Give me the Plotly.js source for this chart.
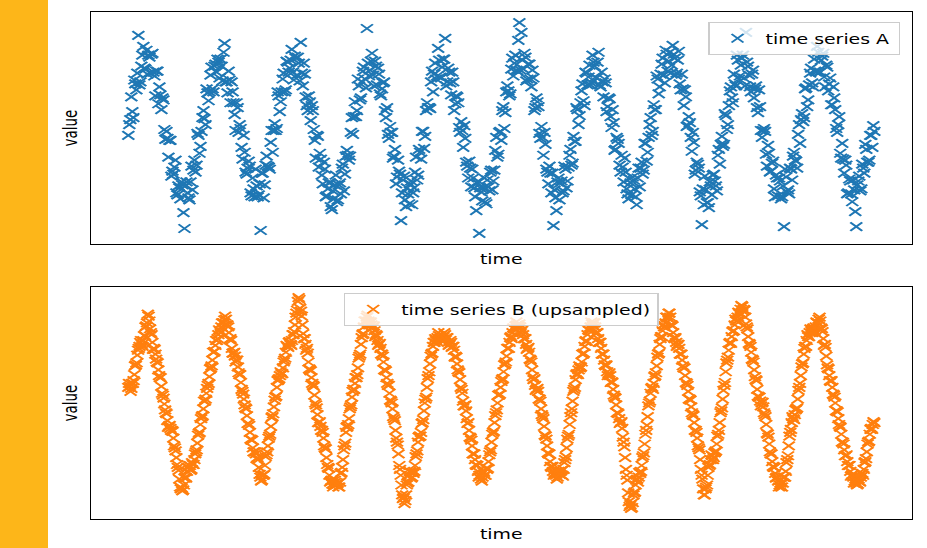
<!DOCTYPE html>
<html>
<head>
<meta charset="utf-8">
<script src="https://cdn.plot.ly/plotly-3.0.1.min.js"></script>
<style>
html,body{margin:0;padding:0;background:#ffffff;overflow:hidden;width:927px;height:548px}
#wrap{position:absolute;left:0;top:0;width:662px;height:548px;transform:scaleX(1.4003);transform-origin:0 0}
#plot{width:662px;height:548px}
#bar{position:absolute;left:0;top:0;width:48px;height:548px;background:#FDB619;z-index:10}
</style>
</head>
<body>
<div id="wrap"><div id="plot"></div></div>
<div id="bar"></div>
<script>
// Series A, samples at even time steps
const seriesA_even = [
104,120,128,160,150,205,158,185,172,190,
185,167,187,164,169,136,145,142,110,108,82,99,68,72,46,53,40,54,
10,57,41,57,49,79,74,104,93,122,121,151,139,165,151,174,168,178,
181,159,197,158,169,137,148,125,137,107,111,80,87,65,78,46,61,42,53,
44,8,66,54,83,72,97,87,116,111,144,138,161,148,179,168,180,168,
184,165,177,198,154,166,134,144,119,129,99,104,72,80,55,70,43,56,32,48,
54,37,54,45,75,65,89,79,107,105,138,129,154,142,169,161,212,164,179,
165,179,155,166,144,157,129,132,101,107,81,90,62,68,18,59,39,51,
35,58,46,67,59,90,80,108,103,137,132,158,148,177,164,180,162,
181,202,158,168,145,158,136,143,112,118,92,101,73,78,52,61,42,56,5,47,
51,37,59,48,69,58,89,82,107,99,133,127,154,144,171,164,185,169,218,208,
171,183,161,176,153,162,132,138,106,113,84,95,67,73,46,13,41,57,
39,58,48,70,58,84,74,103,98,130,124,149,139,168,155,175,157,178,
163,178,155,168,143,157,133,141,112,117,90,100,74,84,57,67,45,60,44,
59,42,61,52,77,69,96,87,115,104,135,130,161,153,176,165,190,169,188,175,
186,165,180,156,166,134,143,114,117,88,97,69,75,47,14,34,49,
36,57,44,65,53,84,75,103,95,124,115,149,142,166,154,180,164,182,
162,208,174,153,166,142,154,127,133,102,111,85,94,67,76,50,64,43,58,42,
12,62,49,71,59,87,78,105,96,126,122,152,140,167,157,181,168,188,168,
184,163,175,149,162,135,142,111,115,86,96,66,74,46,58,37,49,
12,58,48,75,66,90,77,104,92,108
];
// Series A, samples at odd time steps
const seriesA_odd = [
115,143,122,156,167,155,174,194,171,166,
183,186,168,144,169,153,130,140,100,101,99,63,65,79,44,51,57,26,
53,46,39,73,69,67,106,86,108,129,115,147,148,173,148,176,181,162,
174,188,158,147,160,158,137,109,132,115,92,104,67,71,73,43,50,70,42,
55,66,41,74,73,70,109,109,109,148,128,148,167,150,178,172,191,160,
182,183,159,167,177,143,129,138,134,110,81,103,86,64,77,42,50,56,29,40,
64,39,56,71,48,83,84,83,122,123,123,161,140,158,173,152,177,170,187,
154,174,172,146,151,158,122,105,113,107,83,55,79,65,46,63,32,45,
55,34,51,82,64,87,108,91,129,132,131,169,166,161,192,163,173,
181,154,172,157,168,129,144,137,107,109,114,77,61,71,70,51,28,58,51,38,
61,35,52,67,49,69,102,85,108,129,111,148,149,146,182,177,170,200,170,180,
187,159,176,161,170,129,142,133,101,102,107,70,55,66,66,49,28,61,
56,46,73,51,72,90,76,98,132,115,137,156,134,167,163,155,185,174,
162,188,153,158,161,128,142,123,130,89,102,96,67,72,81,50,40,56,62,
50,34,71,71,65,96,78,102,122,108,130,164,146,166,182,157,186,179,167,195,
182,167,189,150,151,150,113,123,102,107,65,77,71,43,50,63,36,
31,53,64,58,48,90,95,93,126,110,134,153,137,156,185,161,175,185,
154,178,165,148,170,151,132,150,109,109,108,73,86,68,78,42,61,61,40,53,
70,47,45,70,83,79,71,115,120,118,151,133,155,172,153,169,194,168,180,
187,153,173,156,135,153,130,107,123,81,80,79,45,60,45,59,27,
54,63,50,71,95,77,79,104,114
];

// Series B (upsampled), samples at even time steps
const seriesB_even = [
132,133,131,136,145,155,165,172,178,176,180,185,195,207,200,188,178,172,166,158,150,
142,133,124,115,106,98,92,90,88,80,70,60,50,
38,28,26,32,40,46,50,52,48,53,58,66,
75,85,94,102,110,118,126,134,143,152,160,168,175,180,186,190,194,198,201,202,196,188,182,
172,167,164,160,153,145,137,128,120,111,103,95,86,78,70,66,64,60,50,40,37,42,52,63,
72,82,92,102,112,122,132,140,144,146,152,160,168,174,178,176,180,186,196,208,220,222,210,196,182,176,172,
158,150,142,134,124,114,104,96,92,88,80,70,60,50,42,36,33,32,35,33,30,35,45,
58,72,86,92,100,112,122,130,136,142,152,164,176,186,194,200,204,200,198,196,194,190,186,180,
176,172,166,158,150,142,134,126,118,110,100,88,76,64,48,32,18,13,22,34,42,45,40,44,
52,64,76,82,86,96,108,120,132,144,156,166,174,178,180,
183,185,182,180,184,186,183,178,176,178,174,170,164,156,148,140,130,
118,113,108,95,88,80,72,64,58,52,46,42,38,40,45,42,48,56,
66,76,86,96,106,116,124,132,140,148,156,164,172,178,184,188,192,195,196,195,194,190,186,182,176,172,
168,160,150,140,134,130,128,120,110,102,92,82,72,64,56,50,46,44,42,40,44,46,42,48,
58,70,82,94,106,118,130,140,146,150,152,158,166,174,180,186,190,194,197,198,194,188,182,178,
172,166,160,154,148,146,144,138,130,122,114,106,100,96,90,76,60,42,24,10,8,14,24,32,38,40,44,52,
62,74,88,102,116,126,132,136,144,154,166,176,184,190,194,198,204,208,204,196,188,182,178,176,172,
166,160,152,144,136,128,120,112,104,96,88,80,70,58,42,28,22,30,42,52,58,62,60,
66,74,84,96,108,120,134,148,160,170,178,184,190,196,200,204,208,212,215,212,204,194,184,176,168,
160,150,140,130,122,118,116,112,104,94,84,74,64,56,50,44,40,36,32,30,34,40,46,
58,72,86,96,100,104,110,120,132,144,156,166,174,180,184,188,190,192,190,194,198,202,200,192,182,176,
164,152,144,138,132,124,116,108,100,92,84,76,68,62,56,52,46,42,40,36,34,33,36,40,44,48,
56,66,76,84,90,94,96
];
// Series B (upsampled), samples at odd time steps
const seriesB_odd = [
136,128,136,139,154,157,170,174,180,174,185,194,198,205,192,186,171,171,161,157,144,
142,126,121,109,105,91,93,88,87,72,67,53,47,
30,29,27,39,39,50,52,47,55,53,64,68,
83,86,100,103,118,120,131,136,151,154,168,169,180,182,191,188,198,198,205,196,194,181,180,
167,168,158,160,147,145,130,125,114,110,95,93,79,78,66,66,59,58,43,36,42,43,61,66,
80,84,101,105,119,123,139,141,148,146,158,162,175,173,179,175,186,189,204,211,224,213,205,187,182,170,167,
151,149,136,133,116,111,96,97,88,86,72,69,53,49,35,37,30,37,32,34,30,44,50,
68,75,91,94,110,114,128,130,142,145,162,166,183,187,200,200,206,196,199,193,195,184,185,175,
177,166,164,150,149,136,134,119,116,102,98,80,73,52,42,22,19,16,32,35,46,39,45,46,
61,67,81,82,95,99,116,122,141,148,164,167,178,182,179,
188,181,183,179,188,181,183,175,180,173,174,163,163,150,147,132,126,
113,114,100,96,81,78,64,64,53,52,40,42,36,46,42,49,49,63,
68,84,87,103,109,124,125,138,141,155,158,172,172,183,182,193,192,199,193,197,188,191,182,182,171,173,
161,158,143,141,129,131,120,118,104,100,83,79,65,64,51,51,42,45,38,46,43,47,41,55,
61,79,84,102,110,128,132,145,145,154,153,166,167,179,179,191,190,199,195,198,187,188,178,178,
166,166,155,155,144,147,137,137,124,121,106,105,95,97,81,71,48,37,15,12,9,22,25,37,35,45,46,60,
65,84,93,113,118,131,130,143,147,163,167,182,184,196,194,204,203,208,196,195,183,183,174,176,166,
166,154,152,137,134,120,119,106,103,88,86,72,68,48,38,22,28,32,50,53,63,58,65,
67,82,88,106,111,129,137,157,163,177,177,189,190,202,200,209,207,216,210,211,197,192,177,174,161,
158,143,139,123,122,113,117,106,102,85,81,66,64,51,50,39,40,30,34,30,40,40,55,
62,82,89,102,99,109,111,129,136,153,157,172,174,186,184,192,188,193,188,199,198,204,193,189,175,173,
155,151,139,139,125,122,108,107,94,91,76,74,62,63,52,52,41,43,34,38,32,38,35,44,42,55,
59,74,77,89,89,97
];

const nameA = 'time series A';
const nameB = 'time series B (upsampled)';
const xLabel = 'time';
const yLabel = 'value';

// build (time, value) tables from the sample lists
const timeA = seriesA_even.map((_, i) => 2 * i).concat(seriesA_odd.map((_, i) => 2 * i + 1));
const valA = seriesA_even.concat(seriesA_odd);
const timeB = seriesB_even.map((_, i) => 2 * i).concat(seriesB_odd.map((_, i) => 2 * i + 1));
const valB = seriesB_even.concat(seriesB_odd);

function padRange(arr) {
  let mn = Math.min(...arr), mx = Math.max(...arr);
  const p = (mx - mn) * 0.05;
  return [mn - p, mx + p];
}

const FONT = 'DejaVu Sans, Verdana, sans-serif';
const fs = 13.5;

const traces = [
  {x: timeA, y: valA, type: 'scatter', mode: 'markers', name: nameA,
   xaxis: 'x', yaxis: 'y', legend: 'legend',
   marker: {symbol: 'x-thin', size: 8.5, color: '#1f77b4', line: {color: '#1f77b4', width: 1.7}}},
  {x: timeB, y: valB, type: 'scatter', mode: 'markers', name: nameB,
   xaxis: 'x2', yaxis: 'y2', legend: 'legend2',
   marker: {symbol: 'x-thin', size: 8.5, color: '#ff7f0e', line: {color: '#ff7f0e', width: 1.7}}}
];

const axisBase = {showticklabels: false, ticks: '', showgrid: false, zeroline: false,
  showline: true, mirror: true, linecolor: '#000000', linewidth: 1};

const topDom = [0.5424, 1];
const botDom = [0, 0.4576];

const layout = {
  width: 662, height: 548,
  margin: {l: 65, r: 11, t: 12, b: 29, pad: 0},
  paper_bgcolor: '#ffffff', plot_bgcolor: '#ffffff',
  font: {family: FONT, size: fs, color: '#000000'},
  xaxis: Object.assign({}, axisBase, {domain: [0, 1], anchor: 'y', range: padRange(timeA),
    title: {text: xLabel, font: {size: fs}, standoff: 10}}),
  yaxis: Object.assign({}, axisBase, {domain: topDom, anchor: 'x', range: padRange(valA),
    title: {text: yLabel, font: {size: fs}, standoff: 5}}),
  xaxis2: Object.assign({}, axisBase, {domain: [0, 1], anchor: 'y2', range: padRange(timeB),
    title: {text: xLabel, font: {size: fs}, standoff: 10}}),
  yaxis2: Object.assign({}, axisBase, {domain: botDom, anchor: 'x2', range: padRange(valB),
    title: {text: yLabel, font: {size: fs}, standoff: 5}}),
  legend: {x: 0.9858, xanchor: 'right', y: 0.9803, yanchor: 'top',
    bgcolor: 'rgba(255,255,255,0.8)', bordercolor: '#cccccc', borderwidth: 1,
    font: {family: FONT, size: fs, color: '#000000'}},
  legend2: {x: 0.5, xanchor: 'center', y: 0.4458, yanchor: 'top',
    bgcolor: 'rgba(255,255,255,0.8)', bordercolor: '#cccccc', borderwidth: 1,
    font: {family: FONT, size: fs, color: '#000000'}},
  showlegend: true
};

Plotly.newPlot('plot', traces, layout, {displayModeBar: false, staticPlot: true});
</script>
</body>
</html>
